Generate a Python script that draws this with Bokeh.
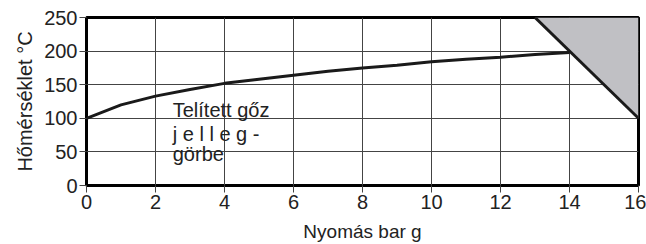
from bokeh.plotting import figure
from bokeh.models import Label, FixedTicker, Range1d
from bokeh.embed import file_html
from bokeh.resources import INLINE

pressure = [0, 1, 2, 3, 4, 5, 6, 7, 8, 9, 10, 11, 12, 13, 14]
temperature = [100, 120, 133, 143, 152, 158, 164, 170, 175, 179, 184, 188, 191, 195, 198]

zone_x = [13, 16, 16]
zone_y = [250, 250, 100]

x_ticks = [0, 2, 4, 6, 8, 10, 12, 14, 16]
y_ticks = [0, 50, 100, 150, 200, 250]

label_lines = ["Telített gőz", "j e l l e g -", "görbe"]
label_x = 2.5
label_y = [112, 77, 47]

FONT = "Liberation Sans"

p = figure(width=646, height=244, output_backend="svg", toolbar_location=None,
           x_range=Range1d(0, 16), y_range=Range1d(0, 250),
           min_border_left=86, min_border_top=17, min_border_right=8, min_border_bottom=58)

p.background_fill_color = "white"
p.border_fill_color = "white"
p.outline_line_color = "black"
p.outline_line_width = 3

p.xaxis.ticker = FixedTicker(ticks=x_ticks)
p.yaxis.ticker = FixedTicker(ticks=y_ticks)
for ax in (p.xaxis[0], p.yaxis[0]):
    ax.axis_line_color = None
    ax.major_tick_line_color = "#444444"
    ax.major_tick_line_width = 1
    ax.major_tick_out = 7
    ax.major_tick_in = 0
    ax.minor_tick_line_color = None
    ax.major_label_text_font = FONT
    ax.major_label_text_font_size = "20px"
    ax.major_label_text_color = "#222222"
    ax.axis_label_text_font = FONT
    ax.axis_label_text_font_style = "normal"
    ax.axis_label_text_color = "#222222"
p.xaxis.axis_label = "Nyomás bar g"
p.yaxis.axis_label = "Hőmérséklet °C"
p.xaxis.axis_label_text_font_size = "19px"
p.yaxis.axis_label_text_font_size = "20px"
p.xaxis.major_label_standoff = 2
p.yaxis.major_label_standoff = 2
p.xaxis.axis_label_standoff = 9
p.yaxis.axis_label_standoff = 5

p.grid.grid_line_color = "#444444"
p.grid.grid_line_width = 1

p.patch(zone_x, zone_y, fill_color="#c0c0c4", line_color=None)
p.line(zone_x[0:1] + zone_x[2:3], zone_y[0:1] + zone_y[2:3], line_color="#1a1a1a", line_width=3)
p.line(pressure, temperature, line_color="#1a1a1a", line_width=3)

# first pass: white backgrounds only, second pass: the text itself
for txt, yy in zip(label_lines, label_y):
    p.add_layout(Label(x=label_x, y=yy, text=txt, text_font=FONT, text_font_size="20px",
                       text_alpha=0, background_fill_color="white",
                       text_baseline="middle"))
for txt, yy in zip(label_lines, label_y):
    p.add_layout(Label(x=label_x, y=yy, text=txt, text_font=FONT, text_font_size="20px",
                       text_color="#222222", text_baseline="middle"))

open("out.html", "w").write(file_html(p, INLINE))
